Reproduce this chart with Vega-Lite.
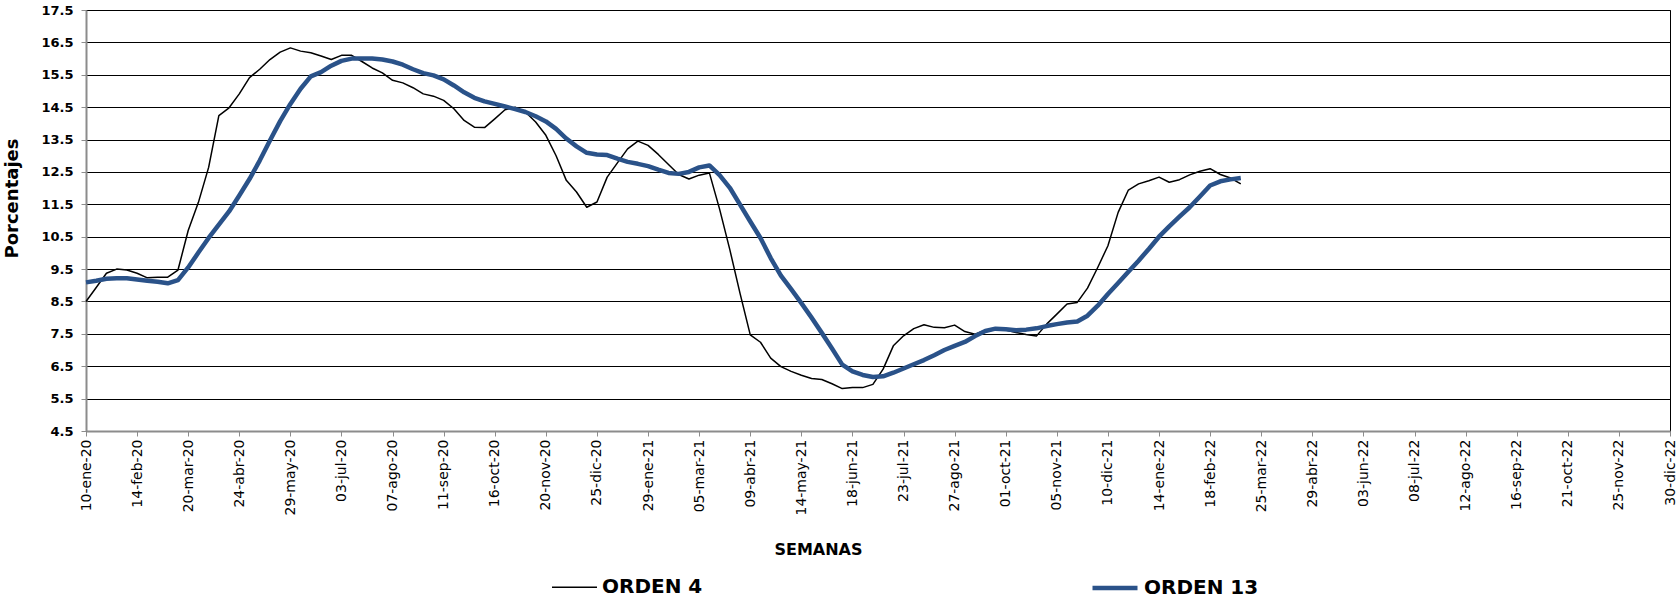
{
  "$schema": "https://vega.github.io/schema/vega-lite/v6.json",
  "autosize": {"type": "none"},
  "padding": {"left": 86, "top": 10, "right": 7, "bottom": 169},
  "width": 1584,
  "height": 421,
  "background": "white",
  "config": {
    "view": {"stroke": "#000000", "strokeWidth": 1},
    "font": "DejaVu Sans"
  },
  "data": {
    "values": [
      {"d":"2020-01-10","o4":8.5,"o13":9.09},
      {"d":"2020-01-17","o4":8.93,"o13":9.14},
      {"d":"2020-01-24","o4":9.37,"o13":9.2},
      {"d":"2020-01-31","o4":9.5,"o13":9.22},
      {"d":"2020-02-07","o4":9.47,"o13":9.22},
      {"d":"2020-02-14","o4":9.37,"o13":9.18},
      {"d":"2020-02-21","o4":9.23,"o13":9.14},
      {"d":"2020-02-28","o4":9.25,"o13":9.11},
      {"d":"2020-03-06","o4":9.25,"o13":9.06},
      {"d":"2020-03-13","o4":9.47,"o13":9.16},
      {"d":"2020-03-20","o4":10.69,"o13":9.55},
      {"d":"2020-03-27","o4":11.56,"o13":10.01},
      {"d":"2020-04-03","o4":12.64,"o13":10.46},
      {"d":"2020-04-10","o4":14.24,"o13":10.87},
      {"d":"2020-04-17","o4":14.48,"o13":11.28},
      {"d":"2020-04-24","o4":14.91,"o13":11.77},
      {"d":"2020-05-01","o4":15.41,"o13":12.28},
      {"d":"2020-05-08","o4":15.67,"o13":12.85},
      {"d":"2020-05-15","o4":15.97,"o13":13.47},
      {"d":"2020-05-22","o4":16.2,"o13":14.07},
      {"d":"2020-05-29","o4":16.33,"o13":14.6},
      {"d":"2020-06-05","o4":16.23,"o13":15.07},
      {"d":"2020-06-12","o4":16.18,"o13":15.45},
      {"d":"2020-06-19","o4":16.08,"o13":15.58},
      {"d":"2020-06-26","o4":15.97,"o13":15.78},
      {"d":"2020-07-03","o4":16.1,"o13":15.93},
      {"d":"2020-07-10","o4":16.1,"o13":16.0},
      {"d":"2020-07-17","o4":15.91,"o13":16.0},
      {"d":"2020-07-24","o4":15.71,"o13":16.0},
      {"d":"2020-07-31","o4":15.56,"o13":15.97},
      {"d":"2020-08-07","o4":15.33,"o13":15.91},
      {"d":"2020-08-14","o4":15.25,"o13":15.81},
      {"d":"2020-08-21","o4":15.1,"o13":15.67},
      {"d":"2020-08-28","o4":14.91,"o13":15.55},
      {"d":"2020-09-04","o4":14.84,"o13":15.48},
      {"d":"2020-09-11","o4":14.71,"o13":15.36},
      {"d":"2020-09-18","o4":14.45,"o13":15.17},
      {"d":"2020-09-25","o4":14.09,"o13":14.96},
      {"d":"2020-10-02","o4":13.88,"o13":14.79},
      {"d":"2020-10-09","o4":13.87,"o13":14.68},
      {"d":"2020-10-16","o4":14.14,"o13":14.6},
      {"d":"2020-10-23","o4":14.42,"o13":14.52},
      {"d":"2020-10-30","o4":14.5,"o13":14.44},
      {"d":"2020-11-06","o4":14.35,"o13":14.35},
      {"d":"2020-11-13","o4":14.04,"o13":14.22},
      {"d":"2020-11-20","o4":13.63,"o13":14.06},
      {"d":"2020-11-27","o4":13.0,"o13":13.83},
      {"d":"2020-12-04","o4":12.24,"o13":13.53},
      {"d":"2020-12-11","o4":11.88,"o13":13.29},
      {"d":"2020-12-18","o4":11.41,"o13":13.09},
      {"d":"2020-12-25","o4":11.57,"o13":13.04},
      {"d":"2021-01-01","o4":12.34,"o13":13.02},
      {"d":"2021-01-08","o4":12.78,"o13":12.91},
      {"d":"2021-01-15","o4":13.21,"o13":12.81},
      {"d":"2021-01-22","o4":13.45,"o13":12.75},
      {"d":"2021-01-29","o4":13.32,"o13":12.68},
      {"d":"2021-02-05","o4":13.04,"o13":12.57},
      {"d":"2021-02-12","o4":12.73,"o13":12.47},
      {"d":"2021-02-19","o4":12.42,"o13":12.44},
      {"d":"2021-02-26","o4":12.28,"o13":12.5},
      {"d":"2021-03-05","o4":12.4,"o13":12.64},
      {"d":"2021-03-12","o4":12.47,"o13":12.7},
      {"d":"2021-03-19","o4":11.35,"o13":12.4},
      {"d":"2021-03-26","o4":10.1,"o13":12.01},
      {"d":"2021-04-02","o4":8.75,"o13":11.49},
      {"d":"2021-04-09","o4":7.47,"o13":10.97},
      {"d":"2021-04-16","o4":7.24,"o13":10.46},
      {"d":"2021-04-23","o4":6.75,"o13":9.84},
      {"d":"2021-04-30","o4":6.49,"o13":9.3},
      {"d":"2021-05-07","o4":6.34,"o13":8.88},
      {"d":"2021-05-14","o4":6.22,"o13":8.45},
      {"d":"2021-05-21","o4":6.12,"o13":8.0},
      {"d":"2021-05-28","o4":6.09,"o13":7.53},
      {"d":"2021-06-04","o4":5.96,"o13":7.05},
      {"d":"2021-06-11","o4":5.81,"o13":6.55},
      {"d":"2021-06-18","o4":5.84,"o13":6.34},
      {"d":"2021-06-25","o4":5.84,"o13":6.23},
      {"d":"2021-07-02","o4":5.94,"o13":6.17},
      {"d":"2021-07-09","o4":6.41,"o13":6.19},
      {"d":"2021-07-16","o4":7.13,"o13":6.3},
      {"d":"2021-07-23","o4":7.44,"o13":6.43},
      {"d":"2021-07-30","o4":7.66,"o13":6.56},
      {"d":"2021-08-06","o4":7.78,"o13":6.69},
      {"d":"2021-08-13","o4":7.7,"o13":6.84},
      {"d":"2021-08-20","o4":7.69,"o13":7.0},
      {"d":"2021-08-27","o4":7.77,"o13":7.13},
      {"d":"2021-09-03","o4":7.57,"o13":7.25},
      {"d":"2021-09-10","o4":7.49,"o13":7.43},
      {"d":"2021-09-17","o4":7.61,"o13":7.59},
      {"d":"2021-09-24","o4":7.64,"o13":7.66},
      {"d":"2021-10-01","o4":7.62,"o13":7.64},
      {"d":"2021-10-08","o4":7.54,"o13":7.61},
      {"d":"2021-10-15","o4":7.48,"o13":7.63},
      {"d":"2021-10-22","o4":7.43,"o13":7.67},
      {"d":"2021-10-29","o4":7.8,"o13":7.74},
      {"d":"2021-11-05","o4":8.11,"o13":7.8},
      {"d":"2021-11-12","o4":8.42,"o13":7.85},
      {"d":"2021-11-19","o4":8.47,"o13":7.88},
      {"d":"2021-11-26","o4":8.91,"o13":8.06},
      {"d":"2021-12-03","o4":9.55,"o13":8.37},
      {"d":"2021-12-10","o4":10.22,"o13":8.73},
      {"d":"2021-12-17","o4":11.25,"o13":9.07},
      {"d":"2021-12-24","o4":11.94,"o13":9.42},
      {"d":"2021-12-31","o4":12.13,"o13":9.76},
      {"d":"2022-01-07","o4":12.23,"o13":10.12},
      {"d":"2022-01-14","o4":12.34,"o13":10.5},
      {"d":"2022-01-21","o4":12.18,"o13":10.82},
      {"d":"2022-01-28","o4":12.26,"o13":11.12},
      {"d":"2022-02-04","o4":12.41,"o13":11.41},
      {"d":"2022-02-11","o4":12.52,"o13":11.74},
      {"d":"2022-02-18","o4":12.6,"o13":12.08},
      {"d":"2022-02-25","o4":12.42,"o13":12.21},
      {"d":"2022-03-04","o4":12.31,"o13":12.27},
      {"d":"2022-03-11","o4":12.13,"o13":12.31}
    ]
  },
  "transform": [
    {"fold": ["o4", "o13"], "as": ["serie", "valor"]}
  ],
  "mark": {"type": "line", "strokeJoin": "round", "strokeCap": "butt"},
  "encoding": {
    "x": {
      "field": "d",
      "type": "temporal",
      "scale": {
        "type": "utc",
        "domain": [
          {"year": 2020, "month": 1, "date": 10, "utc": true},
          {"year": 2022, "month": 12, "date": 30, "utc": true}
        ],
        "nice": false
      },
      "axis": {
        "title": "SEMANAS",
        "titleFont": "DejaVu Sans",
        "titleFontSize": 16,
        "titleFontWeight": "bold",
        "titleColor": "#000000",
        "titleX": 732,
        "titleY": 118,
        "titleAlign": "center",
        "titleBaseline": "middle",
        "grid": false,
        "domainColor": "#8c8c8c",
        "domainWidth": 2,
        "tickColor": "#8c8c8c",
        "tickSize": 5,
        "tickWidth": 1,
        "labelAngle": -90,
        "labelAlign": "right",
        "labelBaseline": "middle",
        "labelPadding": 3,
        "labelFont": "DejaVu Sans",
        "labelFontSize": 14,
        "labelColor": "#000000",
        "labelOverlap": false,
        "labelFlush": false,
        "values": [
          {"year": 2020, "month": 1, "date": 10, "utc": true},
          {"year": 2020, "month": 2, "date": 14, "utc": true},
          {"year": 2020, "month": 3, "date": 20, "utc": true},
          {"year": 2020, "month": 4, "date": 24, "utc": true},
          {"year": 2020, "month": 5, "date": 29, "utc": true},
          {"year": 2020, "month": 7, "date": 3, "utc": true},
          {"year": 2020, "month": 8, "date": 7, "utc": true},
          {"year": 2020, "month": 9, "date": 11, "utc": true},
          {"year": 2020, "month": 10, "date": 16, "utc": true},
          {"year": 2020, "month": 11, "date": 20, "utc": true},
          {"year": 2020, "month": 12, "date": 25, "utc": true},
          {"year": 2021, "month": 1, "date": 29, "utc": true},
          {"year": 2021, "month": 3, "date": 5, "utc": true},
          {"year": 2021, "month": 4, "date": 9, "utc": true},
          {"year": 2021, "month": 5, "date": 14, "utc": true},
          {"year": 2021, "month": 6, "date": 18, "utc": true},
          {"year": 2021, "month": 7, "date": 23, "utc": true},
          {"year": 2021, "month": 8, "date": 27, "utc": true},
          {"year": 2021, "month": 10, "date": 1, "utc": true},
          {"year": 2021, "month": 11, "date": 5, "utc": true},
          {"year": 2021, "month": 12, "date": 10, "utc": true},
          {"year": 2022, "month": 1, "date": 14, "utc": true},
          {"year": 2022, "month": 2, "date": 18, "utc": true},
          {"year": 2022, "month": 3, "date": 25, "utc": true},
          {"year": 2022, "month": 4, "date": 29, "utc": true},
          {"year": 2022, "month": 6, "date": 3, "utc": true},
          {"year": 2022, "month": 7, "date": 8, "utc": true},
          {"year": 2022, "month": 8, "date": 12, "utc": true},
          {"year": 2022, "month": 9, "date": 16, "utc": true},
          {"year": 2022, "month": 10, "date": 21, "utc": true},
          {"year": 2022, "month": 11, "date": 25, "utc": true},
          {"year": 2022, "month": 12, "date": 30, "utc": true}
        ],
        "labelExpr": "utcFormat(datum.value, '%d') + '-' + ['ene','feb','mar','abr','may','jun','jul','ago','sep','oct','nov','dic'][utcmonth(datum.value)] + '-' + utcFormat(datum.value, '%y')"
      }
    },
    "y": {
      "field": "valor",
      "type": "quantitative",
      "scale": {"domain": [4.5, 17.5], "nice": false, "zero": false},
      "axis": {
        "title": "Porcentajes",
        "titleFont": "DejaVu Sans",
        "titleFontSize": 18,
        "titleFontWeight": "bold",
        "titleColor": "#000000",
        "titleAngle": -90,
        "titleX": -74,
        "titleY": 188,
        "titleAlign": "center",
        "titleBaseline": "middle",
        "values": [4.5, 5.5, 6.5, 7.5, 8.5, 9.5, 10.5, 11.5, 12.5, 13.5, 14.5, 15.5, 16.5, 17.5],
        "format": ".1f",
        "grid": true,
        "gridColor": "#000000",
        "gridWidth": 1.2,
        "domainColor": "#8c8c8c",
        "domainWidth": 2,
        "tickColor": "#8c8c8c",
        "tickSize": 5,
        "labelFont": "DejaVu Sans",
        "labelFontSize": 13,
        "labelFontWeight": "bold",
        "labelColor": "#000000",
        "labelPadding": 8,
        "labelFlush": false,
        "labelOverlap": false
      }
    },
    "color": {
      "field": "serie",
      "type": "nominal",
      "scale": {"domain": ["o4", "o13"], "range": ["#000000", "#2A5289"]},
      "legend": {
        "title": null,
        "orient": "none",
        "direction": "horizontal",
        "legendX": 465,
        "legendY": 553,
        "padding": 0,
        "symbolType": "stroke",
        "symbolSize": 2025,
        "labelFont": "DejaVu Sans",
        "labelFontSize": 20,
        "labelFontWeight": "bold",
        "labelColor": "#000000",
        "labelOffset": 4,
        "labelLimit": 300,
        "columnPadding": 380,
        "labelExpr": "datum.label == 'o4' ? 'ORDEN 4' : 'ORDEN 13'"
      }
    },
    "strokeWidth": {
      "field": "serie",
      "type": "nominal",
      "scale": {"domain": ["o4", "o13"], "range": [1.5, 4.5]},
      "legend": {
        "title": null,
        "orient": "none",
        "direction": "horizontal",
        "legendX": 465,
        "legendY": 553,
        "padding": 0,
        "symbolType": "stroke",
        "symbolSize": 2025,
        "labelFont": "DejaVu Sans",
        "labelFontSize": 20,
        "labelFontWeight": "bold",
        "labelColor": "#000000",
        "labelOffset": 4,
        "labelLimit": 300,
        "columnPadding": 380,
        "labelExpr": "datum.label == 'o4' ? 'ORDEN 4' : 'ORDEN 13'"
      }
    }
  }
}
